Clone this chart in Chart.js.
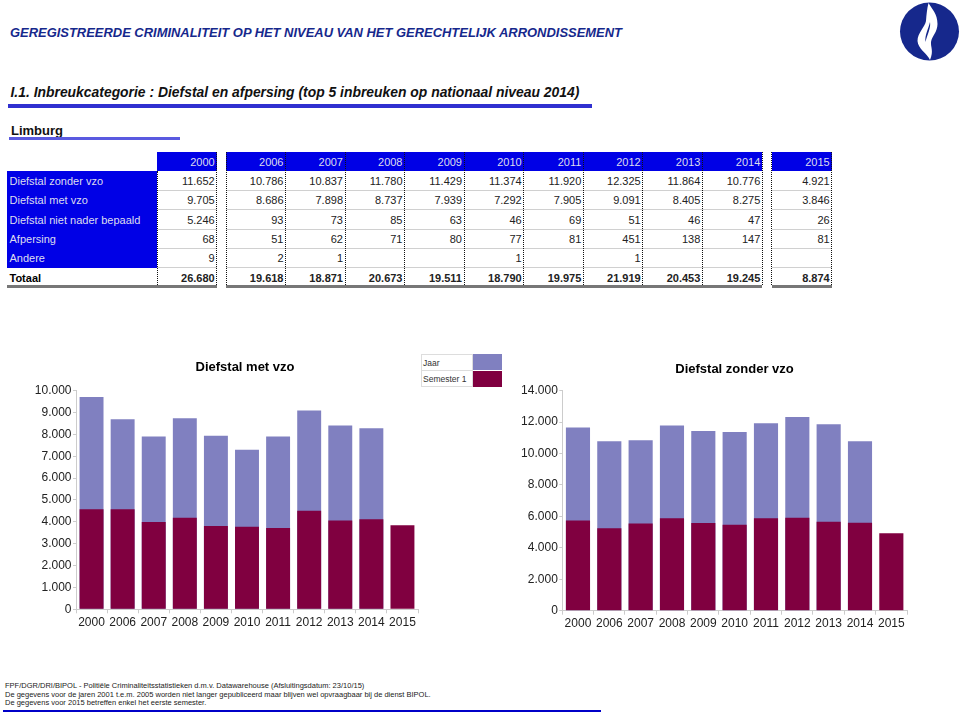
<!DOCTYPE html>
<html lang="nl"><head><meta charset="utf-8">
<script src="https://cdn.jsdelivr.net/npm/chart.js@4"></script>
<style>
html,body{margin:0;padding:0;background:#fff;overflow:hidden}
body{width:960px;height:713px;position:relative;font-family:"Liberation Sans",Arial,sans-serif}
.a{position:absolute;white-space:nowrap}
canvas{position:absolute}
</style></head><body>
<div id="page"></div>
<svg class="a" style="left:899px;top:0" width="61" height="62" viewBox="0 0 61 62">
<ellipse cx="30.5" cy="31.5" rx="29.5" ry="29" fill="#16288c"/>
<path d="M29.5 3C33 9 38.5 14 38.5 24C38.5 32 33 36 32 42C31.5 47 35 51 31 60C28 53 19 49 18.5 41C18.5 33 26 27 27 21C27.5 14 28 9 29.5 3Z" fill="#fff"/>
<path d="M31 22C32 28 28.5 34 26.5 42C25.5 35 29.5 29 31 22Z" fill="#16288c"/>
</svg>
<canvas id="c1" style="left:0px;top:350px" width="490" height="290"></canvas>
<canvas id="c2" style="left:520px;top:350px" width="429" height="290"></canvas>
<script>
const years=["2000","2006","2007","2008","2009","2010","2011","2012","2013","2014","2015"];
const rowLabels=["Diefstal zonder vzo","Diefstal met vzo","Diefstal niet nader bepaald","Afpersing","Andere","Totaal"];
const zonderVzo=[11652,10786,10837,11780,11429,11374,11920,12325,11864,10776,4921];
const metVzo=[9705,8686,7898,8737,7939,7292,7905,9091,8405,8275,3846];
const nietBepaald=[5246,93,73,85,63,46,69,51,46,47,26];
const afpersing=[68,51,62,71,80,77,81,451,138,147,81];
const andere=[9,2,1,null,null,1,null,1,null,null,null];
const totaal=[26680,19618,18871,20673,19511,18790,19975,21919,20453,19245,8874];
const metJaar=[9705,8686,7898,8737,7939,7292,7905,9091,8405,8275,null];
const metSem1=[4570,4570,3990,4190,3810,3770,3720,4510,4055,4115,3846];
const zonderJaar=[11652,10786,10837,11780,11429,11374,11920,12325,11864,10776,null];
const zonderSem1=[5730,5240,5540,5880,5580,5470,5880,5920,5665,5600,4921];

const BLUE="#0000e6",NAVY="#16288c",LILAC="#8080c0",MAROON="#800040";
const fmt=v=>v==null?"":String(v).replace(/\B(?=(\d{3})+$)/g,".");
const page=document.getElementById("page");
function box(l,t,w,h,css){const d=document.createElement("div");d.className="a";
 d.style.cssText+=`left:${l}px;top:${t}px;width:${w}px;height:${h}px;${css||""}`;page.appendChild(d);return d;}
function text(s,l,cy,css,right){const d=document.createElement("div");d.className="a";d.textContent=s;
 d.style.cssText+=`top:${cy-10}px;height:20px;line-height:20px;${right?`right:${960-right}px;`:`left:${l}px;`}${css||""}`;page.appendChild(d);}

text("GEREGISTREERDE CRIMINALITEIT OP HET NIVEAU VAN HET GERECHTELIJK ARRONDISSEMENT",10,32.5,`font:italic bold 12.95px 'Liberation Sans';line-height:20px;color:${NAVY}`);
text("I.1. Inbreukcategorie : Diefstal en afpersing (top 5 inbreuken op nationaal niveau 2014)",10.5,92,"font:italic bold 13.9px 'Liberation Sans';line-height:20px;color:#111");
box(8,104,584,1.5,"background:#3030d0");box(8,106,584,1.5,"background:#3030d0");
text("Limburg",11,130.5,"font:bold 13px 'Liberation Sans';line-height:20px;color:#111");
box(9,136.5,171,3,"background:#5a5ae0");

// table
const edges=[157,216.7,226,285.5,345,404.5,464,523.7,583.3,642.7,702.3,762.3,771.7,831.7];
const spans=[[157,216.7],[226,762.3],[771.7,831.7]];
const colRight=[216.7,285.5,345,404.5,464,523.7,583.3,642.7,702.3,762.3,831.7];
const rowData=[zonderVzo,metVzo,nietBepaald,afpersing,andere,totaal];
const T0=152,T1=171.3,RH=19.3;
spans.forEach(s=>box(s[0],T0,s[1]-s[0],T1-T0,`background:${BLUE}`));
box(7.3,T1,149.7,RH*5,`background:${BLUE}`);
for(let r=1;r<=5;r++)spans.forEach(s=>box(s[0],T1+RH*r-.5,s[1]-s[0],1,"background:#d0d0d0"));
[[7.3,216.7],[226,762.3],[771.7,831.7]].forEach(s=>box(s[0],285,s[1]-s[0],3,"background:#777"));
edges.forEach(x=>{if(x!==157)box(x-.5,T0,0,133,"border-left:1px dotted #111");else box(x-.5,T1,0,114,"border-left:1px dotted #111");});
years.forEach((y,i)=>text(y,0,162,"font:11px 'Liberation Sans';line-height:20px;color:#dde",colRight[i]-2));
rowLabels.forEach((lab,r)=>{const cy=T1+RH*r+9.7,b=r===5;
 text(lab,9.5,cy,`font:${b?"bold ":""}11px 'Liberation Sans';line-height:20px;color:${b?"#000":"#dde"}`);
 rowData[r].forEach((v,i)=>text(fmt(v),0,cy,`font:${b?"bold ":""}11px 'Liberation Sans';line-height:20px;color:#222`,colRight[i]-2));});

// legend
box(420.7,354.3,52.6,32.4,"border:1px solid #ddd;box-sizing:border-box");
box(420.7,370,52.6,1,"background:#ddd");
box(473.3,354.3,28.7,16.2,`background:${LILAC}`);
box(473.3,370.5,28.7,16.2,`background:${MAROON}`);
text("Jaar",423,363,"font:8.5px 'Liberation Sans';line-height:20px;color:#333");
text("Semester 1",423,379,"font:8.5px 'Liberation Sans';line-height:20px;color:#333");

// footer
["FPF/DGR/DRI/BIPOL - Politiële Criminaliteitsstatistieken d.m.v. Datawarehouse (Afsluitingsdatum: 23/10/15)",
 "De gegevens voor de jaren 2001 t.e.m. 2005 worden niet langer gepubliceerd maar blijven wel opvraagbaar bij de dienst BIPOL.",
 "De gegevens voor 2015 betreffen enkel het eerste semester."].forEach((s,i)=>text(s,5,686+8.6*i,"font:7.5px 'Liberation Sans';line-height:20px;color:#222"));
box(3,710,598,2,"background:#0000c8");

function draw(id,titleText,jaar,sem,maxV,step,axisW,axisH,spareR,titlePad){
 new Chart(document.getElementById(id),{type:"bar",
  data:{labels:years,datasets:[
   {label:"Semester 1",data:sem,backgroundColor:MAROON,order:1},
   {label:"Jaar",data:jaar,backgroundColor:LILAC,order:2}]},
  options:{responsive:false,animation:false,events:[],
   datasets:{bar:{grouped:false,barPercentage:.77,categoryPercentage:1}},
   plugins:{legend:{display:false},tooltip:{enabled:false},
    title:{display:true,text:titleText,color:"#000",font:{family:"Liberation Sans",size:13,weight:"bold"},padding:titlePad}},
   scales:{
    x:{grid:{drawOnChartArea:false,color:"#ccc",tickLength:4},border:{color:"#ccc"},
       ticks:{color:"#222",font:{family:"Liberation Sans",size:12},padding:2,maxRotation:0,autoSkip:false},
       afterFit:s=>{s.height=axisH}},
    y:{min:0,max:maxV,grid:{drawOnChartArea:false,color:"#ccc",tickLength:3},border:{color:"#ccc"},
       ticks:{stepSize:step,color:"#222",font:{family:"Liberation Sans",size:12},padding:1.5,callback:v=>fmt(v)},
       afterFit:s=>{s.width=axisW}},
    spare:{position:"right",min:0,max:maxV,grid:{display:false},border:{display:false},ticks:{display:false},
       afterFit:s=>{s.width=spareR}}
   }}});
}
draw("c1","Diefstal met vzo",metJaar,metSem1,10000,1000,76,30.7,72,{top:9.5,bottom:15.5});
draw("c2","Diefstal zonder vzo",zonderJaar,zonderSem1,14000,2000,42.3,29.3,42,{top:11.5,bottom:13.5});
</script>
</body></html>
